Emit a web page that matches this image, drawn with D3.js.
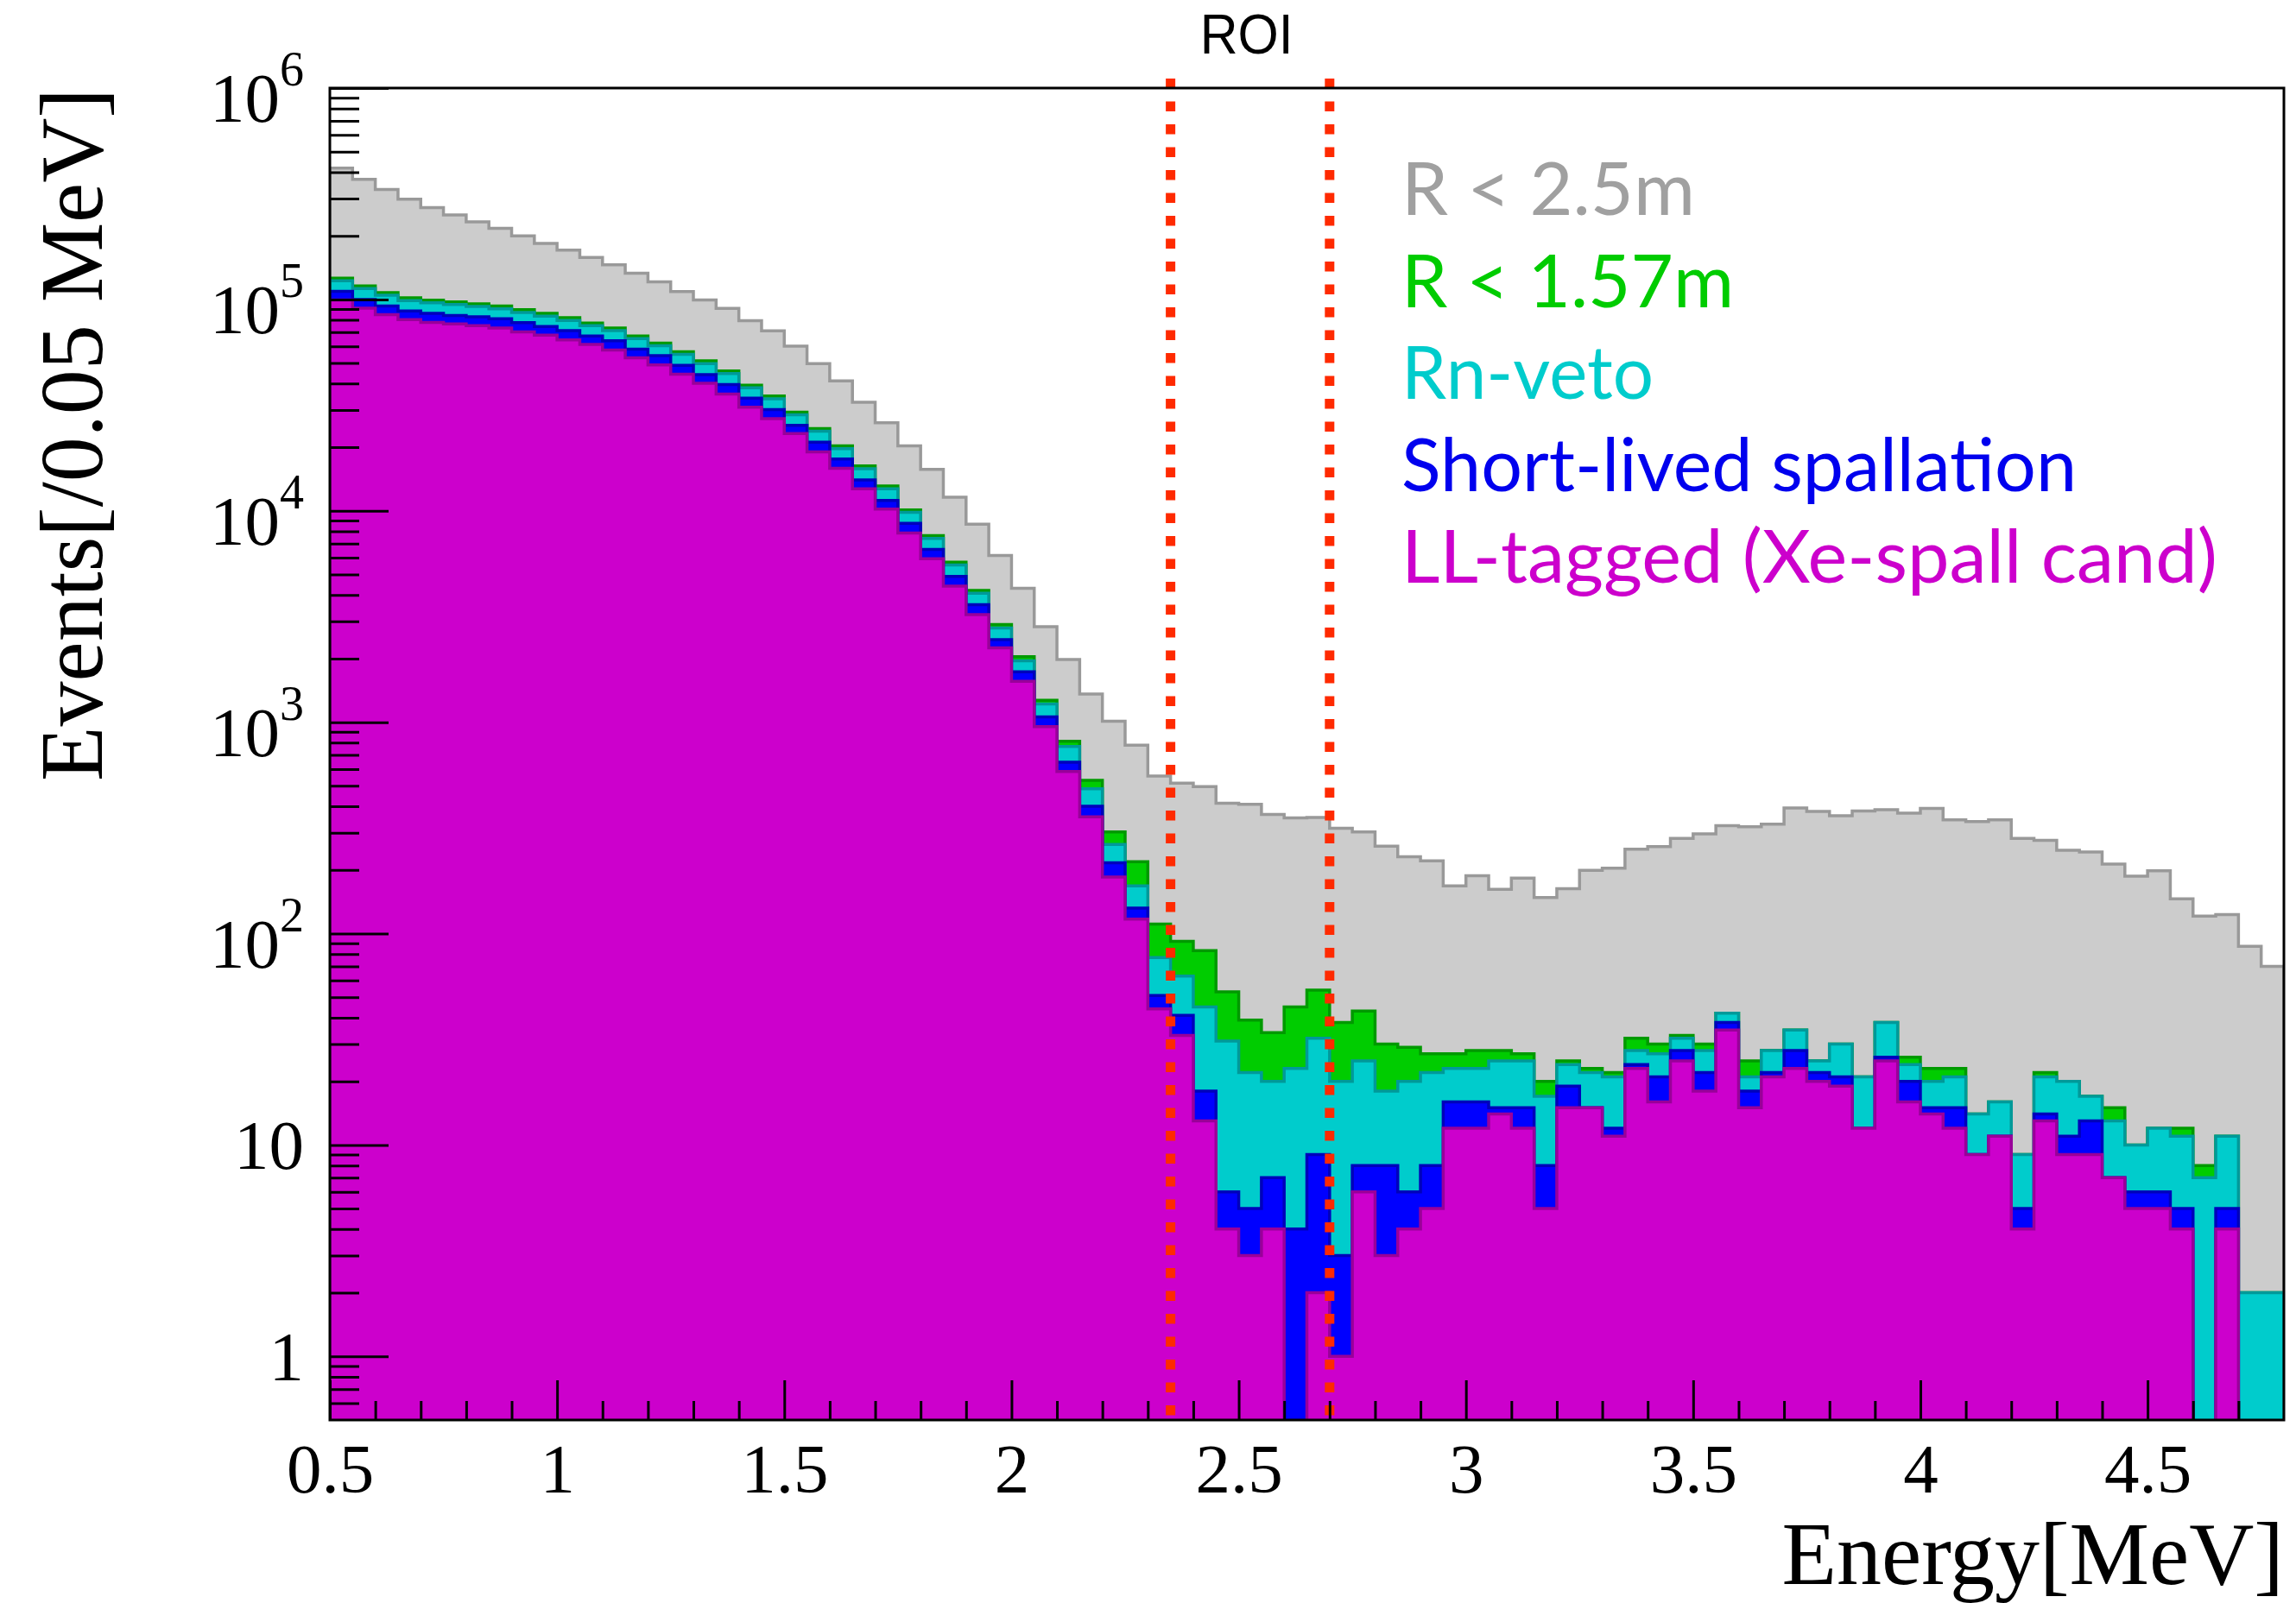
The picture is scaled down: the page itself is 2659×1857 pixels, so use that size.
<!DOCTYPE html>
<html>
<head>
<meta charset="utf-8">
<script src="https://cdn.jsdelivr.net/npm/d3@7"></script>
<style>
  html, body { margin: 0; padding: 0; background: #ffffff; }
  svg { display: block; }
</style>
</head>
<body>
<svg id="chart" width="2659" height="1857"></svg>
<script>
// Energy binning: 86 bins of 0.05 MeV from 0.5 to 4.8 MeV
const binStart = 0.5;
const binWidth = 0.05;
const energyMax = 4.8;

// Events per bin, R < 2.5m
const rLarge = [
  418000, 370000, 331000, 298000, 272000, 251000, 233000, 217000, 200000, 184000,
  171000, 158000, 146000, 133000, 121000, 109000, 99500, 90700, 79300, 71000,
  60100, 49700, 41200, 32600, 26100, 20300, 15700, 11600, 8650, 6150,
  4300, 2830, 1980, 1360, 1010, 779, 556, 515, 496, 414,
  409, 366, 353, 354, 315, 303, 259, 231, 221, 168,
  188, 162, 183, 148, 163, 199, 204, 251, 258, 282,
  296, 324, 320, 329, 393, 378, 361, 380, 386, 371,
  391, 345, 339, 345, 282, 276, 248, 243, 213, 187,
  198, 146, 121, 123, 87, 70
];

// Events per bin, R < 1.57m
const rFiducial = [
  126000, 115800, 107700, 101700, 99200, 97400, 95300, 93000, 89400, 85900,
  82000, 77400, 73300, 67200, 62100, 56600, 51200, 45900, 39300, 34900,
  29300, 24500, 20300, 16300, 13100, 10100, 7640, 5720, 4200, 2900,
  2040, 1270, 813, 531, 303, 219, 111, 92, 83, 53,
  39, 34, 45, 54, 38, 43, 30, 29, 27, 27,
  28, 28, 27, 20, 25, 23, 22, 32, 30, 33,
  30, 42, 25, 28, 35, 25, 30, 21, 38, 26,
  23, 23, 14, 16, 9, 22, 20, 17, 15, 10,
  12, 12, 8, 11, 2, 2
];

// Events per bin after the Rn veto
const rnVeto = [
  122600, 112500, 104700, 98800, 96400, 94600, 92600, 90300, 86800, 83400,
  79600, 75200, 71200, 65300, 60400, 55000, 49700, 44600, 38200, 33900,
  28500, 23800, 19700, 15800, 12700, 9840, 7400, 5550, 4070, 2790,
  1950, 1220, 767, 484, 264, 168, 77, 63, 45, 31,
  22, 20, 23, 32, 20, 25, 18, 20, 22, 23,
  23, 25, 25, 17, 24, 22, 21, 28, 27, 32,
  28, 42, 21, 28, 35, 25, 30, 21, 38, 24,
  20, 21, 14, 16, 9, 21, 20, 17, 13, 10,
  12, 11, 7, 11, 2, 2
];

// Events per bin after the short-lived spallation veto
const shortLived = [
  109300, 99900, 93000, 88100, 85900, 84000, 82800, 81100, 77700, 74400,
  71200, 67200, 63700, 58200, 54200, 48800, 44100, 39600, 34100, 30100,
  25400, 21100, 17600, 14000, 11200, 8720, 6560, 4900, 3600, 2460,
  1730, 1060, 646, 400, 216, 132, 51, 41, 18, 6,
  5, 7, 4, 9, 3, 8, 8, 6, 8, 16,
  16, 15, 15, 8, 19, 15, 12, 24, 21, 28,
  22, 38, 18, 22, 28, 22, 21, 12, 26, 20,
  15, 15, 9, 11, 5, 14, 11, 13, 7, 6,
  6, 5, 0, 5, 0, 0
];

// Events per bin tagged as long-lived spallation (Xe-spall candidates)
const llTagged = [
  99500, 91000, 84700, 80200, 77900, 76500, 75200, 73300, 70200, 67700,
  64400, 61200, 57600, 53000, 49000, 44300, 40100, 35700, 30900, 27300,
  23200, 19000, 15900, 12700, 10200, 7850, 5930, 4400, 3230, 2250,
  1560, 952, 584, 357, 185, 117, 44, 33, 13, 4,
  3, 4, 0, 2, 1, 6, 3, 4, 5, 12,
  12, 14, 12, 5, 15, 15, 11, 23, 16, 25,
  18, 35, 15, 21, 23, 20, 19, 12, 25, 16,
  14, 12, 9, 11, 4, 13, 9, 9, 7, 5,
  5, 4, 0, 4, 0, 0
];

// Region of interest boundaries [MeV]
const roi = [2.35, 2.70];

// Legend entries, drawn top to bottom
const legendLabels = ["R < 2.5m", "R < 1.57m", "Rn-veto", "Short-lived spallation", "LL-tagged (Xe-spall cand)"];

// Tick values
const xMajorTicks = [0.5, 1, 1.5, 2, 2.5, 3, 3.5, 4, 4.5];
const xTickLabels = ["0.5", "1", "1.5", "2", "2.5", "3", "3.5", "4", "4.5"];
const yMajorTicks = [1, 10, 100, 1e3, 1e4, 1e5, 1e6];

// ---- layout ----
const W = 2659, H = 1857;
const plot = { left: 382, top: 102, right: 2645, bottom: 1645 };

const svg = d3.select("#chart");

const x = d3.scaleLinear().domain([binStart, energyMax]).range([plot.left, plot.right]);
const y = d3.scaleLog().domain([0.5, 1e6]).range([plot.bottom, plot.top]);

const nBins = rLarge.length;
const edges = d3.range(nBins + 1).map(i => binStart + i * binWidth);

// plot-area clip
svg.append("defs").append("clipPath").attr("id", "plotClip")
  .append("rect")
  .attr("x", plot.left).attr("y", plot.top)
  .attr("width", plot.right - plot.left).attr("height", plot.bottom - plot.top);

const yOf = v => (v > 0 ? y(v) : plot.bottom + 30);

function stepOutline(vals) {
  let d = `M${x(edges[0])},${plot.bottom + 30}`;
  vals.forEach((v, i) => {
    const yy = yOf(v);
    d += `L${x(edges[i])},${yy}L${x(edges[i + 1])},${yy}`;
  });
  d += `L${x(edges[nBins])},${plot.bottom + 30}`;
  return d;
}

const series = [
  { values: rLarge,     fill: "#cccccc", line: "#999999" },
  { values: rFiducial,  fill: "#00cc00", line: "#009900" },
  { values: rnVeto,     fill: "#00cccc", line: "#009999" },
  { values: shortLived, fill: "#0000ff", line: "#0000bb" },
  { values: llTagged,   fill: "#cc00cc", line: "#990099" }
];

const histLayer = svg.append("g").attr("clip-path", "url(#plotClip)");
series.forEach(s => {
  const d = stepOutline(s.values);
  histLayer.append("path").attr("d", d + "Z").attr("fill", s.fill).attr("stroke", "none");
  histLayer.append("path").attr("d", d).attr("fill", "none")
    .attr("stroke", s.line).attr("stroke-width", 3.5).attr("stroke-linejoin", "miter");
});

// ROI markers
const roiG = svg.append("g");
roi.forEach(e => {
  roiG.append("line")
    .attr("x1", x(e)).attr("x2", x(e))
    .attr("y1", 91).attr("y2", plot.bottom)
    .attr("stroke", "#ff2a00").attr("stroke-width", 11)
    .attr("stroke-dasharray", "11.5,15");
});
roiG.append("text")
  .attr("x", (x(roi[0]) + x(roi[1])) / 2 - 4).attr("y", 62)
  .attr("text-anchor", "middle")
  .attr("font-family", "'Liberation Sans', Arial, sans-serif")
  .attr("font-size", 64)
  .attr("textLength", 108).attr("lengthAdjust", "spacingAndGlyphs")
  .attr("fill", "#000")
  .text("ROI");

// legend
const legendColors = ["#a0a0a0", "#00cc00", "#00cccc", "#0000ee", "#cc00cc"];
const legendWidths = [340, 385, 292, 782, 945];
const legendBaselines = [249, 356, 462, 569, 675];
const legend = svg.append("g");
legendLabels.forEach((t, i) => {
  legend.append("text")
    .attr("x", 1623).attr("y", legendBaselines[i])
    .attr("font-family", "Lato, 'Open Sans', sans-serif")
    .attr("font-size", 86)
    .attr("textLength", legendWidths[i]).attr("lengthAdjust", "spacingAndGlyphs")
    .attr("fill", legendColors[i])
    .text(t);
});

// ---- axes ----
const tickFont = "'Liberation Serif', 'Times New Roman', serif";

const xMinor = d3.range(5, 48).map(k => k / 10).filter(v => Math.abs(v * 2 - Math.round(v * 2)) > 1e-6);
const yMinor = [];
for (let k = -1; k <= 5; k++) {
  for (let m = 2; m <= 9; m++) {
    const v = m * Math.pow(10, k);
    if (v > 0.5 && v < 1e6) yMinor.push(v);
  }
}

const axisG = svg.append("g").attr("stroke-width", 3);

// x axis: major ticks with labels, then minor ticks
const xAxisMajor = axisG.append("g").attr("transform", `translate(0,${plot.bottom})`)
  .call(d3.axisBottom(x).tickValues(xMajorTicks).tickSize(-46).tickPadding(0)
    .tickFormat((d, i) => xTickLabels[i]));
axisG.append("g").attr("transform", `translate(0,${plot.bottom})`)
  .call(d3.axisBottom(x).tickValues(xMinor).tickSize(-22).tickFormat(""));

xAxisMajor.selectAll("text")
  .attr("y", 84).attr("dy", null)
  .attr("font-family", tickFont).attr("font-size", 81).attr("fill", "#000");

// y axis: major and minor ticks
const yAxisMajor = axisG.append("g").attr("transform", `translate(${plot.left},0)`)
  .call(d3.axisLeft(y).tickValues(yMajorTicks).tickSize(-68).tickFormat(""));
axisG.append("g").attr("transform", `translate(${plot.left},0)`)
  .call(d3.axisLeft(y).tickValues(yMinor).tickSize(-34).tickFormat(""));

axisG.selectAll(".domain").remove();
axisG.selectAll(".tick line").attr("stroke", "#000").attr("stroke-width", 3);

// y tick labels: 1, 10, then powers of ten with superscript exponent
const yLabels = svg.append("g")
  .attr("font-family", tickFont).attr("fill", "#000").attr("text-anchor", "end");
yMajorTicks.forEach(v => {
  const p = Math.round(Math.log10(v));
  if (p < 2) {
    yLabels.append("text").attr("x", 352).attr("y", y(v) + 28)
      .attr("font-size", 81).text(String(v));
  } else {
    const t = yLabels.append("text").attr("x", 352).attr("y", y(v) + 39).attr("font-size", 81);
    t.append("tspan").text("10");
    t.append("tspan").attr("font-size", 56).attr("dy", -42).text(String(p));
  }
});

// frame
svg.append("rect")
  .attr("x", plot.left).attr("y", plot.top)
  .attr("width", plot.right - plot.left).attr("height", plot.bottom - plot.top)
  .attr("fill", "none").attr("stroke", "#000").attr("stroke-width", 3);

// axis titles
svg.append("text")
  .attr("transform", `translate(118,${plot.top}) rotate(-90)`)
  .attr("text-anchor", "end")
  .attr("font-family", tickFont).attr("font-size", 104).attr("fill", "#000")
  .text("Events[/0.05 MeV]");

svg.append("text")
  .attr("x", plot.right).attr("y", 1835)
  .attr("text-anchor", "end")
  .attr("font-family", tickFont).attr("font-size", 104).attr("fill", "#000")
  .text("Energy[MeV]");
</script>
</body>
</html>
